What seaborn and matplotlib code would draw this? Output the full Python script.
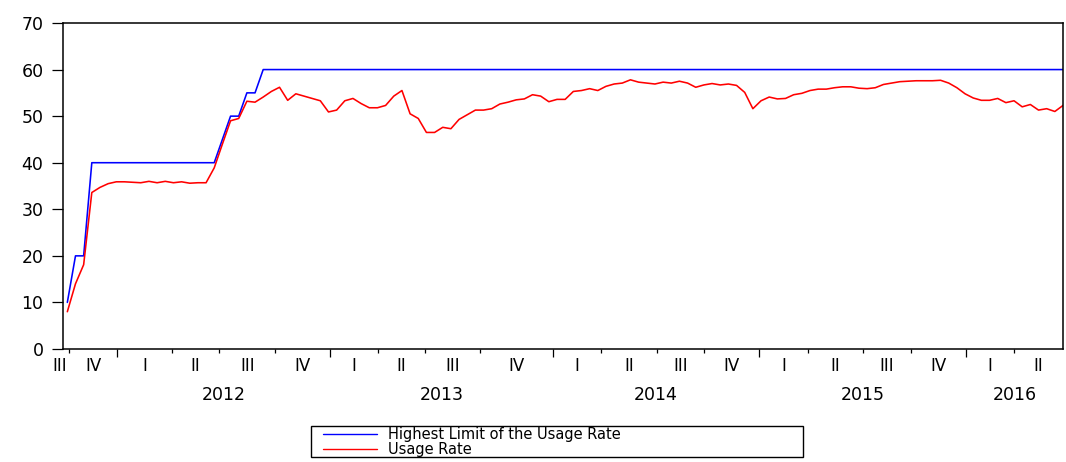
import matplotlib
matplotlib.use("Agg")
import matplotlib.pyplot as plt
import matplotlib.transforms as mtransforms
from matplotlib.lines import Line2D
from matplotlib.legend_handler import HandlerLine2D
import pandas as pd
import seaborn as sns

# Bi-weekly observations, late Q3 2011 through Q2 2016
highest_limit = ([10, 20, 20] + [40] * 16 + [45, 50, 50, 55, 55] + [60] * 99)

usage_rate = [
    8.0, 14.0, 18.1, 33.6, 34.7, 35.5, 35.9, 35.9, 35.8, 35.7,
    36.0, 35.7, 36.0, 35.7, 35.9, 35.6, 35.7, 35.7, 38.9, 44.0,
    49.0, 49.5, 53.2, 53.0, 54.1, 55.3, 56.2, 53.4, 54.8, 54.3,
    53.8, 53.3, 50.9, 51.3, 53.3, 53.8, 52.7, 51.8, 51.8, 52.3,
    54.3, 55.5, 50.5, 49.5, 46.5, 46.5, 47.6, 47.3, 49.3, 50.3,
    51.3, 51.3, 51.6, 52.6, 53.0, 53.5, 53.7, 54.6, 54.3, 53.1,
    53.6, 53.6, 55.3, 55.5, 55.9, 55.5, 56.4, 56.9, 57.1, 57.8,
    57.3, 57.1, 56.9, 57.3, 57.1, 57.5, 57.1, 56.2, 56.7, 57.0,
    56.7, 56.9, 56.6, 55.1, 51.6, 53.3, 54.1, 53.7, 53.8, 54.6,
    54.9, 55.5, 55.8, 55.8, 56.1, 56.3, 56.3, 56.0, 55.9, 56.1,
    56.8, 57.1, 57.4, 57.5, 57.6, 57.6, 57.6, 57.7, 57.1, 56.1,
    54.8, 53.9, 53.4, 53.4, 53.8, 52.9, 53.3, 52.0, 52.5, 51.3,
    51.6, 51.0, 52.3,
]

series_names = ["Highest Limit of the Usage Rate", "Usage Rate"]
series_colors = ["#0000FF", "#FF0000"]

# Observation number at which each quarter begins (Q4 2011 ... Q2 2016)
quarter_ticks = [0.2, 6.1, 12.8, 18.6, 25.5, 32.2, 38.1, 43.8, 50.6, 59.5,
                 65.4, 72.3, 78.0, 84.8, 90.8, 97.5, 103.4, 110.1, 116.0]
first_quarter_label = "III"
quarter_labels = ["IV",
                  "I", "II", "III", "IV",
                  "I", "II", "III", "IV",
                  "I", "II", "III", "IV",
                  "I", "II", "III", "IV",
                  "I", "II"]
year_labels = ["2012", "2013", "2014", "2015", "2016"]
year_tick_index = [1, 5, 9, 13, 17]

n_obs = len(usage_rate)
obs = list(range(n_obs))
df = pd.DataFrame({
    "obs": obs * 2,
    "value": highest_limit + usage_rate,
    "series": [series_names[0]] * n_obs + [series_names[1]] * n_obs,
})

sns.set_theme(style="white")
plt.rcParams["font.family"] = ["DejaVu Sans"]

fig = plt.figure(figsize=(10.66, 4.62), dpi=100)
ax = fig.add_axes([63 / 1066, 1 - 349 / 462, 1000 / 1066, 326 / 462])

sns.lineplot(data=df, x="obs", y="value", hue="series", hue_order=series_names,
             palette=series_colors, linewidth=1.15, legend=False, ax=ax,
             estimator=None)

x_left, x_right = -0.53, 122.0
ax.set_xlim(x_left, x_right)
ax.set_ylim(0, 70)
ax.set_yticks(range(0, 80, 10))
ax.set_xlabel("")
ax.set_ylabel("")

for side in ["left", "right", "top", "bottom"]:
    ax.spines[side].set_visible(True)
    ax.spines[side].set_color("black")
    ax.spines[side].set_linewidth(1.1)

ax.tick_params(axis="y", direction="out", length=8, width=0.9, color="black",
               pad=6, labelsize=12.5, labelcolor="black", left=True)

major = [quarter_ticks[i] for i in year_tick_index]
minor = [t for i, t in enumerate(quarter_ticks) if i not in year_tick_index]
ax.set_xticks(major)
ax.set_xticks(minor, minor=True)
ax.set_xticklabels([])
ax.tick_params(axis="x", which="major", direction="out", length=5.5, width=0.9,
               color="black", bottom=True)
ax.tick_params(axis="x", which="minor", direction="out", length=3, width=0.9,
               color="black", bottom=True)

# Quarter names centred in each quarter, years centred under their quarters
trans = mtransforms.blended_transform_factory(ax.transData, ax.transAxes)
q_y = -17 / 326
y_y = -46 / 326
ax.text(quarter_ticks[0] - 0.2, q_y, first_quarter_label, transform=trans,
        ha="right", va="center", fontsize=12, color="black")
edges = quarter_ticks + [x_right]
for i, lab in enumerate(quarter_labels):
    ax.text((edges[i] + edges[i + 1]) / 2, q_y, lab, transform=trans,
            ha="center", va="center", fontsize=12, color="black")
for j, yl in enumerate(year_labels):
    start = edges[year_tick_index[j]]
    end = edges[min(year_tick_index[j] + 4, len(edges) - 1)]
    ax.text((start + end) / 2, y_y, yl, transform=trans,
            ha="center", va="center", fontsize=12.5, color="black")

handles = [Line2D([], [], color=c, linewidth=1.0) for c in series_colors]
leg = fig.legend(handles, series_names, loc="upper left",
                 bbox_to_anchor=(311 / 1066, -0.2, (803 - 311) / 1066,
                                 1.2 - 426 / 462),
                 bbox_transform=fig.transFigure, mode="expand", ncol=1,
                 handler_map={Line2D: HandlerLine2D(xpad=0.8)},
                 fontsize=10.5, handlelength=4.5, handletextpad=0.7,
                 labelspacing=0.0, borderpad=0.05, borderaxespad=0,
                 frameon=True, fancybox=False, shadow=False, framealpha=1)
leg.get_frame().set_edgecolor("black")
leg.get_frame().set_linewidth(1.0)
for t in leg.get_texts():
    t.set_color("black")

fig.savefig("out.png", dpi=100, facecolor="white")
